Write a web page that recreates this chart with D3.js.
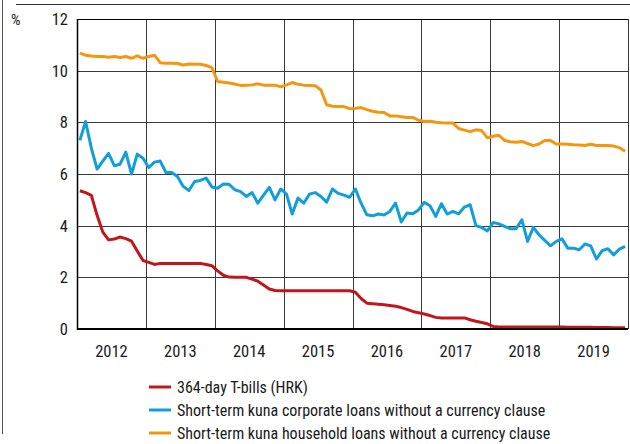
<!DOCTYPE html>
<html>
<head>
<meta charset="utf-8">
<script src="https://cdn.jsdelivr.net/npm/d3@7"></script>
<style>
  html, body { margin: 0; padding: 0; background: #fff; }
  svg { display: block; }
</style>
</head>
<body>
<svg id="chart"></svg>
<script>
// Monthly data, Jan 2012 - Dec 2019
const years = ["2012", "2013", "2014", "2015", "2016", "2017", "2018", "2019"];
const yTicks = [0, 2, 4, 6, 8, 10, 12];

const tBills = [
  5.35, 5.28, 5.17, 4.4, 3.75, 3.45, 3.48, 3.56, 3.5, 3.4, 3.02, 2.65,
  2.58, 2.5, 2.54, 2.54, 2.54, 2.54, 2.54, 2.54, 2.54, 2.54, 2.5, 2.45,
  2.25, 2.08, 2.01, 2.0, 2.0, 2.0, 1.93, 1.85, 1.7, 1.55, 1.49, 1.48,
  1.48, 1.48, 1.48, 1.48, 1.48, 1.48, 1.48, 1.48, 1.48, 1.48, 1.48, 1.48,
  1.42, 1.18, 1.0, 0.98, 0.96, 0.94, 0.91, 0.88, 0.83, 0.76, 0.68, 0.63,
  0.58, 0.52, 0.45, 0.43, 0.43, 0.43, 0.43, 0.43, 0.36, 0.3, 0.25, 0.2,
  0.1, 0.08, 0.08, 0.08, 0.08, 0.08, 0.08, 0.08, 0.08, 0.08, 0.08, 0.08,
  0.08, 0.07, 0.07, 0.07, 0.07, 0.07, 0.06, 0.06, 0.06, 0.05, 0.05, 0.05
];

const corporate = [
  7.3, 8.03, 7.0, 6.19, 6.5, 6.8, 6.32, 6.38, 6.85, 6.0, 6.77, 6.61,
  6.25, 6.46, 6.5, 6.06, 6.06, 5.9, 5.52, 5.36, 5.71, 5.75, 5.84, 5.5,
  5.45, 5.61, 5.6, 5.39, 5.32, 5.13, 5.28, 4.87, 5.18, 5.48, 5.0, 5.42,
  5.22, 4.45, 5.07, 4.87, 5.22, 5.28, 5.13, 4.91, 5.42, 5.25, 5.18, 5.1,
  5.42, 4.87, 4.42, 4.38, 4.45, 4.41, 4.55, 4.87, 4.14, 4.49, 4.46, 4.61,
  4.9, 4.77, 4.36, 4.85, 4.45, 4.55, 4.46, 4.72, 4.81, 4.0, 3.93, 3.8,
  4.12, 4.07, 3.97, 3.88, 3.88, 4.23, 3.39, 3.93, 3.65, 3.43, 3.22, 3.39,
  3.49, 3.13, 3.13, 3.07, 3.29, 3.22, 2.71, 3.03, 3.11, 2.87, 3.09, 3.2
];

const household = [
  10.68, 10.6, 10.57, 10.55, 10.55, 10.52, 10.55, 10.51, 10.55, 10.48, 10.57, 10.48,
  10.55, 10.6, 10.31, 10.29, 10.29, 10.28, 10.22, 10.26, 10.25, 10.25, 10.2, 10.12,
  9.58, 9.55, 9.52, 9.48, 9.43, 9.44, 9.45, 9.49, 9.44, 9.44, 9.44, 9.37,
  9.45, 9.54, 9.47, 9.44, 9.43, 9.42, 9.25, 8.68, 8.62, 8.61, 8.61, 8.53,
  8.54, 8.57, 8.49, 8.43, 8.39, 8.38, 8.25, 8.25, 8.22, 8.19, 8.19, 8.08,
  8.03, 8.04, 8.0, 7.98, 7.97, 7.97, 7.76, 7.7, 7.64, 7.71, 7.68, 7.4,
  7.46, 7.5, 7.3, 7.25, 7.23, 7.26, 7.18, 7.1, 7.16, 7.3, 7.3, 7.16,
  7.16, 7.15, 7.13, 7.12, 7.1, 7.15, 7.1, 7.1, 7.1, 7.08, 7.02, 6.88
];

const seriesNames = [
  "364-day T-bills (HRK)",
  "Short-term kuna corporate loans without a currency clause",
  "Short-term kuna household loans without a currency clause"
];
const seriesColors = ["#c1161c", "#119edb", "#f5960f"];
const seriesData = [tBills, corporate, household];

const width = 630, height = 444;
const margin = { top: 19, right: 2, bottom: 115, left: 77 };
const innerW = width - margin.left - margin.right;
const innerH = height - margin.top - margin.bottom;
const font = "'Liberation Sans Narrow', 'Arial Narrow', 'Roboto Condensed', sans-serif";

const svg = d3.select("#chart")
    .attr("width", width)
    .attr("height", height)
    .attr("font-family", font);

// frame rules of the figure box
svg.append("line")
    .attr("x1", 2.5).attr("x2", 2.5).attr("y1", 0).attr("y2", 434)
    .attr("stroke", "#555").attr("stroke-width", 1);
svg.append("line")
    .attr("x1", 16).attr("x2", width).attr("y1", 4.5).attr("y2", 4.5)
    .attr("stroke", "#333").attr("stroke-width", 1);

const g = svg.append("g").attr("transform", `translate(${margin.left},${margin.top})`);

// month index scale: each year spans 12 months
const nMonths = years.length * 12;
const x = d3.scaleLinear().domain([0, nMonths]).range([0, innerW]);
const y = d3.scaleLinear().domain([0, 12]).range([innerH, 0]);

// horizontal grid
g.append("g")
    .selectAll("line")
    .data(yTicks.filter(d => d > 0))
    .join("line")
    .attr("x1", 0).attr("x2", innerW)
    .attr("y1", d => Math.round(y(d)) + 0.5).attr("y2", d => Math.round(y(d)) + 0.5)
    .attr("stroke", "#3a3a3a").attr("stroke-width", 1);

// vertical year grid
g.append("g")
    .selectAll("line")
    .data(d3.range(1, years.length + 1))
    .join("line")
    .attr("x1", d => Math.round(x(d * 12)) + 0.5).attr("x2", d => Math.round(x(d * 12)) + 0.5)
    .attr("y1", 0).attr("y2", innerH)
    .attr("stroke", "#3a3a3a").attr("stroke-width", 1);

// y tick labels
g.append("g")
    .selectAll("text")
    .data(yTicks)
    .join("text")
    .attr("x", -9)
    .attr("y", d => y(d))
    .attr("dy", "0.36em")
    .attr("text-anchor", "end")
    .attr("font-size", "16.5px")
    .attr("fill", "#1a1a1a")
    .text(d => d);

svg.append("text")
    .attr("x", 11).attr("y", 25)
    .attr("font-size", "15px")
    .attr("fill", "#1a1a1a")
    .text("%");

// x year labels
g.append("g")
    .selectAll("text")
    .data(years)
    .join("text")
    .attr("x", (d, i) => x(i * 12 + 6))
    .attr("y", innerH + 28)
    .attr("text-anchor", "middle")
    .attr("font-size", "16.5px")
    .attr("fill", "#1a1a1a")
    .text(d => d);

// series lines
const line = d3.line()
    .x((d, i) => x(i + 0.5))
    .y(d => y(d));

seriesData.forEach((data, k) => {
    g.append("path")
        .datum(data)
        .attr("fill", "none")
        .attr("stroke", seriesColors[k])
        .attr("stroke-width", 3)
        .attr("stroke-linejoin", "round")
        .attr("d", line);
});

// axes lines
g.append("line")
    .attr("x1", 0.5).attr("x2", 0.5).attr("y1", 0).attr("y2", innerH + 1)
    .attr("stroke", "#000").attr("stroke-width", 1.5);
g.append("line")
    .attr("x1", 0).attr("x2", innerW).attr("y1", innerH).attr("y2", innerH)
    .attr("stroke", "#000").attr("stroke-width", 2.2);
g.append("line")
    .attr("x1", 0).attr("x2", innerW).attr("y1", 0.5).attr("y2", 0.5)
    .attr("stroke", "#000").attr("stroke-width", 1);

// legend
const legend = svg.append("g").attr("transform", "translate(149, 387)");
seriesNames.forEach((name, k) => {
    const row = legend.append("g").attr("transform", `translate(0, ${k * 23})`);
    row.append("line")
        .attr("x1", 0).attr("x2", 22).attr("y1", 0).attr("y2", 0)
        .attr("stroke", seriesColors[k]).attr("stroke-width", 3);
    row.append("text")
        .attr("x", 28).attr("y", 0).attr("dy", "0.36em")
        .attr("font-size", "16px")
        .attr("fill", "#1a1a1a")
        .text(name);
});
</script>
</body>
</html>
